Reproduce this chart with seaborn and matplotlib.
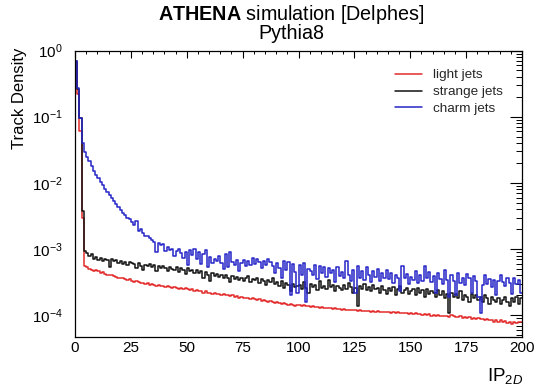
import numpy as np
import pandas as pd
import matplotlib
matplotlib.use("Agg")
import matplotlib.pyplot as plt
import seaborn as sns
from matplotlib.lines import Line2D
from matplotlib.ticker import LogLocator, MultipleLocator, NullFormatter

# ---------------- data (track density per 1-unit IP bin, in units of 1e-4) ----------------
x_range = (0, 200)
n_bins = 200
categories = ["light jets", "strange jets", "charm jets"]

light_jets = [
    6500, 2200, 600, 30, 5.6, 5.3, 5.0, 4.9, 4.7, 4.8,
    4.6, 4.4, 4.5, 4.2, 4.1, 4.0, 4.1, 3.9, 3.8, 3.7,
    3.6, 3.7, 3.5, 3.4, 3.5, 3.3, 3.2, 3.3, 3.2, 3.1,
    3.1, 3.0, 3.1, 2.9, 3.0, 2.9, 2.8, 2.9, 2.8, 2.8,
    2.7, 2.8, 2.7, 2.6, 2.7, 2.6, 2.5, 2.6, 2.5, 2.6,
    2.5, 2.4, 2.5, 2.3, 2.4, 2.3, 2.3, 2.2, 2.3, 2.2,
    2.2, 2.1, 2.2, 2.1, 2.1, 2.0, 2.1, 2.0, 2.0, 1.95,
    2.0, 1.9, 1.95, 1.85, 1.9, 1.85, 1.8, 1.85, 1.75, 1.8,
    1.75, 1.7, 1.75, 1.65, 1.7, 1.65, 1.6, 1.65, 1.6, 1.55,
    1.6, 1.55, 1.5, 1.55, 1.5, 1.45, 1.5, 1.45, 1.4, 1.45,
    1.45, 1.4, 1.42, 1.38, 1.4, 1.35, 1.37, 1.33, 1.35, 1.3,
    1.32, 1.28, 1.3, 1.27, 1.29, 1.25, 1.27, 1.23, 1.25, 1.22,
    1.24, 1.2, 1.22, 1.19, 1.21, 1.2, 1.17, 1.19, 1.16, 1.18,
    1.15, 1.17, 1.14, 1.16, 1.13, 1.15, 1.12, 1.14, 1.11, 1.13,
    1.12, 1.1, 1.13, 1.09, 1.11, 1.08, 1.1, 1.07, 1.09, 1.06,
    1.08, 1.05, 1.07, 1.04, 1.06, 1.02, 1.04, 1.01, 1.03, 0.99,
    1.01, 0.98, 1.0, 0.97, 0.99, 0.96, 0.98, 0.95, 1.02, 0.96,
    0.95, 0.93, 0.96, 0.92, 0.94, 0.9, 0.93, 0.89, 0.91, 0.88,
    0.9, 0.87, 0.89, 0.85, 0.88, 0.84, 0.86, 0.8, 0.85, 0.79,
    0.84, 0.78, 0.83, 0.77, 0.8, 0.74, 0.79, 0.76, 0.8, 0.78,
]

strange_jets = [
    7000, 2600, 950, 37, 9.2, 8.8, 7.8, 8.3, 7.2, 7.6,
    6.9, 7.4, 6.6, 7.1, 6.8, 5.4, 7.0, 6.5, 6.9, 6.2,
    6.6, 6.0, 6.4, 5.8, 6.3, 6.1, 5.9, 5.2, 6.2, 5.6,
    4.9, 5.8, 5.5, 6.0, 5.3, 5.7, 4.7, 5.6, 5.1, 5.5,
    5.2, 4.6, 5.4, 5.0, 4.9, 5.3, 4.5, 5.1, 4.8, 4.2,
    5.2, 4.7, 4.9, 4.4, 4.8, 4.3, 4.6, 3.7, 4.5, 4.1,
    3.3, 4.3, 3.9, 4.2, 3.8, 4.0, 3.6, 4.1, 3.7, 3.2,
    3.9, 3.5, 3.8, 3.4, 3.7, 3.3, 3.6, 3.9, 3.2, 3.5,
    3.4, 3.7, 3.1, 3.5, 3.3, 2.9, 3.4, 3.2, 3.6, 3.0,
    3.2, 2.8, 3.3, 2.6, 3.1, 2.9, 2.3, 3.0, 2.7, 2.8,
    2.9, 2.5, 3.2, 2.6, 2.2, 3.0, 2.7, 2.9, 2.4, 3.3,
    2.6, 2.8, 2.5, 3.4, 2.7, 2.9, 2.3, 2.8, 2.6, 2.4,
    2.9, 2.5, 3.1, 2.7, 2.2, 2.6, 1.4, 2.8, 2.5, 3.0,
    2.4, 2.7, 2.3, 2.9, 2.5, 2.6, 2.2, 2.8, 2.4, 2.1,
    2.6, 2.3, 2.7, 2.0, 2.5, 2.8, 2.2, 2.4, 2.6, 2.1,
    2.3, 2.5, 2.0, 2.6, 2.2, 2.4, 1.9, 2.5, 2.1, 2.3,
    2.2, 1.9, 2.4, 2.0, 2.3, 1.8, 2.1, 1.1, 2.2, 1.9,
    2.1, 1.8, 2.3, 1.7, 2.0, 1.9, 1.6, 2.1, 1.8, 2.0,
    1.7, 1.9, 1.6, 2.0, 1.8, 1.5, 1.9, 1.7, 1.6, 1.8,
    1.5, 1.7, 1.9, 1.6, 1.4, 1.8, 1.6, 1.9, 1.5, 1.8,
]

charm_jets = [
    7000, 2700, 950, 400, 290, 250, 215, 180, 150, 132,
    118, 104, 92, 82, 73, 66, 60, 53, 48, 43,
    39, 35, 33, 30, 28, 26, 23, 27, 19, 20,
    17.5, 16, 15.5, 14.5, 13.5, 13, 9.0, 12.5, 11.5, 11.8,
    9.5, 10.8, 9.8, 10.2, 8.0, 9.4, 9.9, 8.8, 7.4, 9.0,
    5.8, 9.6, 8.1, 10.0, 7.2, 9.1, 6.0, 8.5, 9.8, 5.4,
    7.6, 6.2, 7.0, 6.5, 7.8, 6.1, 5.0, 8.4, 5.3, 8.9,
    6.4, 5.7, 6.8, 4.6, 6.2, 6.9, 5.5, 6.6, 5.8, 7.4,
    6.0, 7.0, 6.3, 5.1, 6.7, 5.8, 7.2, 6.4, 5.5, 4.3,
    6.1, 5.2, 3.6, 6.5, 4.8, 6.3, 2.0, 5.9, 4.5, 2.2,
    5.7, 4.0, 6.2, 1.6, 5.0, 4.6, 4.0, 5.8, 3.5, 5.6,
    4.3, 5.4, 3.8, 5.2, 4.4, 4.9, 3.2, 5.3, 3.9, 4.5,
    3.6, 6.5, 4.1, 3.3, 4.8, 2.2, 5.5, 3.7, 4.6, 3.4,
    5.3, 4.0, 3.2, 4.7, 3.8, 5.0, 3.3, 4.3, 3.6, 4.9,
    3.5, 4.4, 3.1, 4.0, 3.6, 2.3, 5.6, 3.7, 4.2, 3.0,
    3.8, 3.4, 4.6, 3.1, 4.1, 3.3, 5.5, 3.6, 4.5, 3.2,
    3.9, 2.2, 4.3, 3.5, 3.0, 4.8, 3.4, 1.9, 4.0, 3.3,
    2.0, 4.4, 3.1, 3.7, 2.9, 4.2, 3.6, 2.2, 3.9, 3.3,
    1.9, 1.1, 2.9, 4.1, 3.0, 3.5, 2.7, 3.4, 2.0, 3.3,
    4.0, 3.2, 2.8, 3.6, 3.1, 2.1, 3.7, 3.0, 3.4, 2.2,
]
value_unit = 1e-4

title_lines = [r"$\mathbf{ATHENA}$ simulation [Delphes]", "Pythia8"]
colors = {"light jets": "#e32b2b", "strange jets": "#111111", "charm jets": "#2626c8"}

# ---------------- build table ----------------
edges = np.linspace(x_range[0], x_range[1], n_bins + 1)
centers = 0.5 * (edges[:-1] + edges[1:])
frames = []
for name, vals in zip(categories, [light_jets, strange_jets, charm_jets]):
    frames.append(pd.DataFrame({"ip": centers,
                                "density": np.array(vals, dtype=float) * value_unit,
                                "jet": name}))
df = pd.concat(frames, ignore_index=True)

# ---------------- style ----------------
sns.set_theme(style="white")
plt.rcParams["font.family"] = ["Liberation Sans", "DejaVu Sans"]
plt.rcParams["mathtext.fontset"] = "custom"
plt.rcParams["mathtext.rm"] = "Liberation Sans"
plt.rcParams["mathtext.it"] = "Liberation Sans:italic"
plt.rcParams["mathtext.bf"] = "Liberation Sans:bold"

fig = plt.figure(figsize=(5.36, 3.87), dpi=100)
ax = fig.add_axes([75 / 536, 50 / 387, 447 / 536, 286.5 / 387])

# seaborn layers the first hue level on top -> charm on top, light at the bottom
sns.histplot(data=df, x="ip", weights="density", hue="jet",
             hue_order=categories[::-1],
             bins=n_bins, binrange=x_range, element="step", fill=False,
             palette=colors, linewidth=1.1, alpha=1.0, legend=False, ax=ax)

ax.set_yscale("log")
ax.set_xlim(0, 200)
ax.set_ylim(4.7e-5, 1.0)

for s in ax.spines.values():
    s.set_color("black")
    s.set_linewidth(0.9)

ax.xaxis.set_major_locator(MultipleLocator(25))
ax.xaxis.set_minor_locator(MultipleLocator(5))
ax.yaxis.set_major_locator(LogLocator(base=10, numticks=10))
ax.yaxis.set_minor_locator(LogLocator(base=10, subs=np.arange(2, 10), numticks=10))
ax.yaxis.set_minor_formatter(NullFormatter())

ax.tick_params(axis="x", which="major", direction="in", top=True, length=5,
               width=0.8, labelsize=11, pad=3, color="black", labelcolor="black")
ax.tick_params(axis="x", which="minor", direction="in", top=True, length=2.5,
               width=0.7, color="black")
ax.tick_params(axis="y", which="major", direction="in", right=True, length=9,
               width=0.8, labelsize=11, pad=9, color="black", labelcolor="black")
ax.tick_params(axis="y", which="minor", direction="in", right=True, length=4.5,
               width=0.7, color="black")

ax.set_xlabel("")
ax.set_ylabel("")
fig.text(20 / 536, 1 - 48 / 387, "Track Density", rotation=90, ha="center", va="top",
         fontsize=12, color="black")
fig.text(523 / 536, 1 - 386 / 387, r"IP$_{2\mathit{D}}$", ha="right", va="bottom",
         fontsize=13.5, color="black")

# two-line title as a single text block
fig.text(291 / 536, 1 - 3.5 / 387, "\n".join(title_lines),
         ha="center", va="top", multialignment="center", linespacing=0.82,
         fontsize=14.2, color="black")

handles = [Line2D([], [], color=colors[c], lw=1.1) for c in categories]
ax.legend(handles, categories, loc="upper left", frameon=False,
          bbox_to_anchor=(395 / 536, 1 - 69 / 387), bbox_transform=fig.transFigure,
          fontsize=9.7, handlelength=2.0, handletextpad=0.8, labelspacing=0.33,
          borderpad=0, borderaxespad=0)

fig.savefig("out.png", dpi=100)
